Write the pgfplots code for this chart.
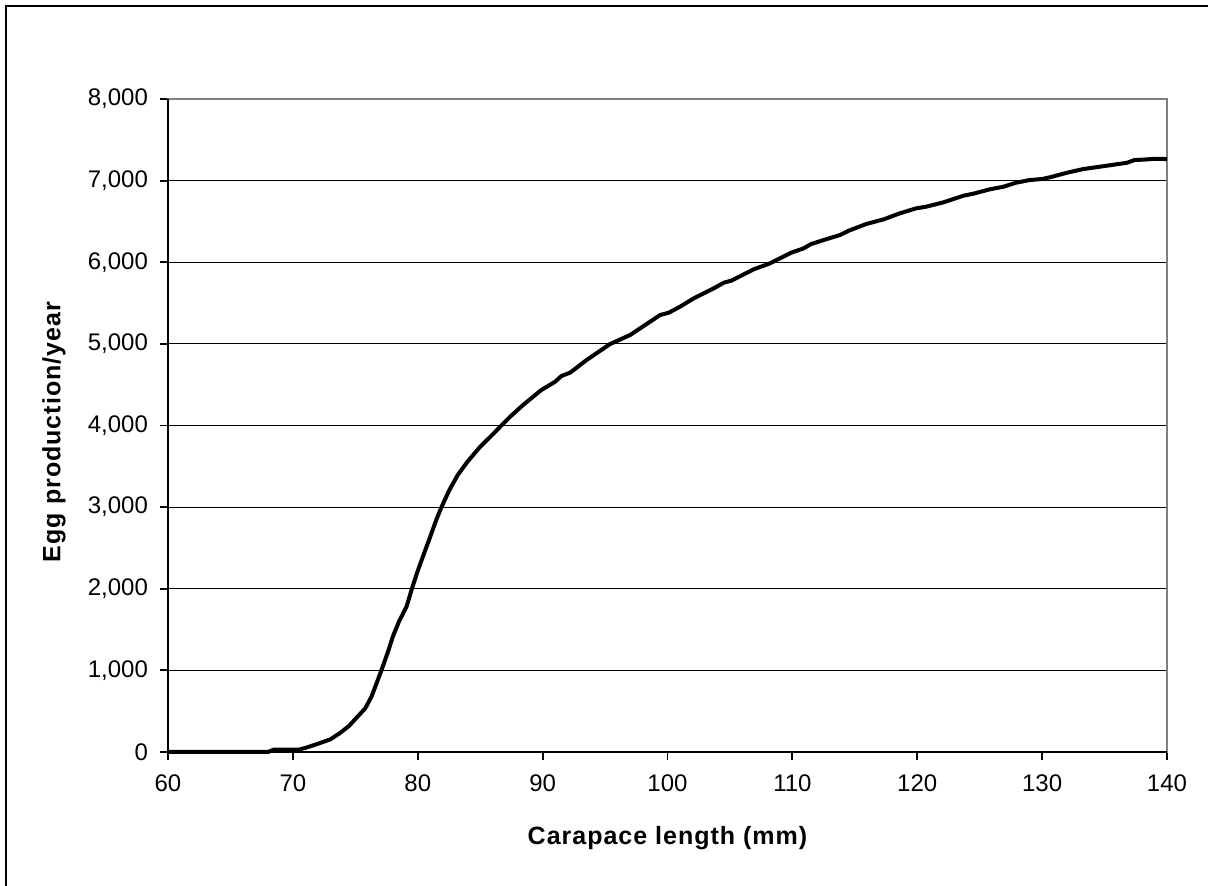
\documentclass[border=0pt]{standalone}
\usepackage{pgfplots}
\pgfplotsset{compat=1.18}
\usepackage{fontspec}
\setmainfont{Liberation Sans}
\definecolor{bordergray}{RGB}{128,128,128}
\begin{document}
\begin{tikzpicture}
\useasboundingbox (0,0) rectangle (604pt,443pt);
\draw[line width=1pt] (2.8pt,-10pt) -- (2.8pt,440pt) -- (620pt,440pt);
\begin{axis}[
  at={(84pt,67pt)}, anchor=south west,
  scale only axis, width=499.5pt, height=326.5pt,
  xmin=60, xmax=140, ymin=0, ymax=8000,
  xtick={60,70,...,140}, ytick={0,1000,...,8000},
  tick pos=left, tick align=outside, major tick length=4pt,
  tick style={black, line width=0.9pt},
  axis line style={bordergray, line width=1pt},
  ymajorgrids, major grid style={black, line width=0.5pt},
  scaled y ticks=false,
  /pgf/number format/assume math mode=true,
  /pgf/number format/1000 sep={,},
  ticklabel style={font=\fontsize{12}{14}\selectfont},
  yticklabel style={xshift=-2.5pt},
  xticklabel style={yshift=-4pt},
  xlabel={Carapace length (mm)},
  ylabel={Egg production/year},
  label style={font=\fontsize{12.5}{14}\selectfont\bfseries\addfontfeatures{LetterSpace=4}},
  xlabel style={at={(axis description cs:0.5,-0.1317)}, anchor=center},
  ylabel style={at={(axis description cs:-0.1141,0.49)}, anchor=center},
  clip=false,
]
\addplot[black, line width=2pt, line join=round] coordinates {
(60,0) (62,0) (64,0) (66,0) (68,0) (68.5,30) (70.5,30) (71,50) (72,100) (73,155)
(73.8,235) (74.5,320) (75.1,420) (75.8,535) (76.3,680) (76.7,841) (77.1,1005)
(77.6,1220) (78,1412) (78.5,1600) (79.1,1780) (79.5,1985) (80,2220) (80.5,2430)
(81,2638) (81.5,2850) (81.9,3000) (82.5,3200) (83.2,3393) (84,3560) (85,3740)
(86,3890) (86.6,3985) (87.4,4108) (88.5,4260) (89.9,4435) (91,4536) (91.5,4606)
(92.2,4647) (93.5,4800) (95.4,4998) (97,5108) (98.3,5240) (99.4,5353) (100.1,5382)
(101,5455) (102.1,5558) (103.7,5680) (104.5,5749) (105.1,5774) (106.9,5913)
(108.2,5986) (109.9,6117) (110.9,6170) (111.5,6223) (112.5,6272) (113.8,6333)
(114.5,6386) (115.9,6468) (117.3,6525) (118.6,6599) (119.9,6660) (120.7,6680)
(122.1,6734) (123.7,6815) (124.6,6844) (125.8,6893) (126.9,6925) (127.9,6974)
(129.0,7007) (130.0,7020) (130.6,7040) (132.0,7097) (133.3,7142) (134.6,7170)
(136.8,7219) (137.4,7252) (138.4,7260) (139,7268) (140,7264)
};
\draw[black, line width=1pt] (rel axis cs:0,1) -- (rel axis cs:0,0) -- (rel axis cs:1,0);
\end{axis}
\end{tikzpicture}
\end{document}
